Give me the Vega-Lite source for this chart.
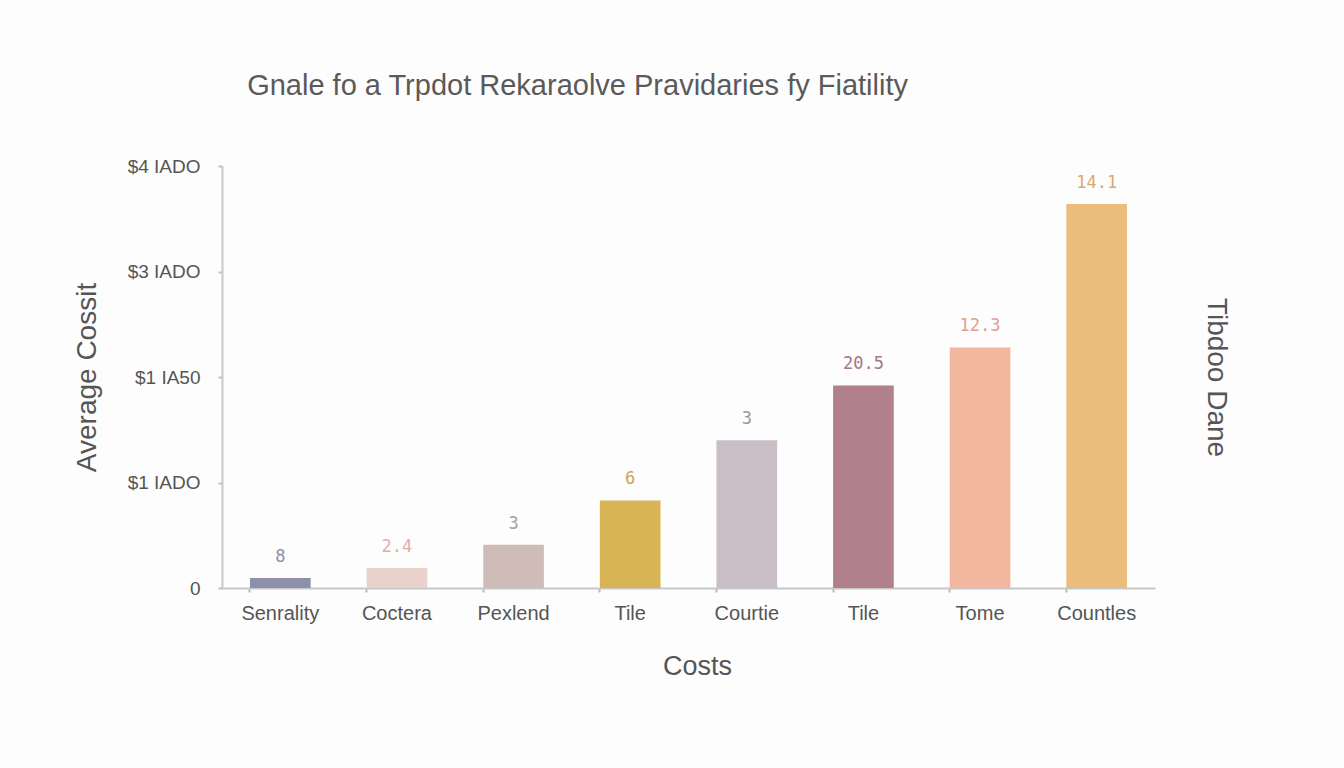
{
  "$schema": "https://vega.github.io/schema/vega-lite/v6.json",
  "autosize": {"type": "none"},
  "padding": {"left": 222, "top": 166, "right": 189, "bottom": 180},
  "width": 933,
  "height": 422,
  "background": "#fdfdfd",
  "title": {
    "text": "Gnale fo a Trpdot Rekaraolve Pravidaries fy Fiatility",
    "anchor": "start",
    "dx": 174,
    "offset": 56,
    "fontSize": 29,
    "fontWeight": "normal",
    "font": "Liberation Sans",
    "color": "#5a5a5a"
  },
  "data": {
    "values": [
      {"cat": "Senrality", "cost": 0.095, "label": "8"},
      {"cat": "Coctera", "cost": 0.19, "label": "2.4"},
      {"cat": "Pexlend", "cost": 0.41, "label": "3"},
      {"cat": "Tile", "cost": 0.83, "label": "6"},
      {"cat": "Courtie", "cost": 1.4, "label": "3"},
      {"cat": "Tile ", "cost": 1.92, "label": "20.5"},
      {"cat": "Tome", "cost": 2.28, "label": "12.3"},
      {"cat": "Countles", "cost": 3.64, "label": "14.1"}
    ]
  },
  "encoding": {
    "x": {
      "field": "cat",
      "type": "nominal",
      "sort": null,
      "scale": {"paddingInner": 0.48, "paddingOuter": 0.24},
      "axis": {
        "title": "Costs",
        "labelAngle": 0,
        "bandPosition": 0,
        "labelFontSize": 20,
        "labelColor": "#555555",
        "labelFont": "Liberation Sans",
        "labelPadding": 11,
        "titleFontSize": 27,
        "titleFontWeight": "normal",
        "titleFont": "Liberation Sans",
        "titleColor": "#555555",
        "titlePadding": 30,
        "titleX": 475,
        "domainColor": "#c8c8c8",
        "domainWidth": 2,
        "tickColor": "#b8b8b8",
        "tickSize": 4,
        "tickWidth": 2
      }
    }
  },
  "layer": [
    {
      "mark": {"type": "bar"},
      "encoding": {
        "y": {
          "field": "cost",
          "type": "quantitative",
          "scale": {"domain": [0, 4]},
          "axis": {
            "title": "Average Cossit",
            "values": [0, 1, 2, 3, 4],
            "labelExpr": "datum.value == 0 ? '0' : datum.value == 1 ? '$1 IADO' : datum.value == 2 ? '$1 IA50' : datum.value == 3 ? '$3 IADO' : '$4 IADO'",
            "grid": false,
            "labelFontSize": 19,
            "labelColor": "#555555",
            "labelFont": "Liberation Sans",
            "labelPadding": 18,
            "titleFontSize": 28,
            "titleFontWeight": "normal",
            "titleFont": "Liberation Sans",
            "titleColor": "#555555",
            "titlePadding": 26,
            "domainColor": "#c8c8c8",
            "domainWidth": 2,
            "tickColor": "#c0c0c0",
            "tickSize": 4,
            "tickWidth": 2
          }
        },
        "color": {
          "field": "cat",
          "type": "nominal",
          "legend": null,
          "scale": {
            "domain": ["Senrality", "Coctera", "Pexlend", "Tile", "Courtie", "Tile ", "Tome", "Countles"],
            "range": ["#8d90aa", "#ead2cc", "#cfbcb8", "#d9b455", "#c9bdc6", "#b0808c", "#f3b79f", "#ebbd7c"]
          }
        }
      }
    },
    {
      "mark": {
        "type": "text",
        "baseline": "bottom",
        "dy": -12,
        "fontSize": 17,
        "font": "DejaVu Sans Mono"
      },
      "encoding": {
        "y": {
          "field": "cost",
          "type": "quantitative",
          "axis": {
            "orient": "right",
            "title": "Tibdoo Dane",
            "titleAngle": 90,
            "labels": false,
            "ticks": false,
            "domain": false,
            "grid": false,
            "titleFontSize": 28,
            "titleFontWeight": "normal",
            "titleFont": "Liberation Sans",
            "titleColor": "#555555",
            "titlePadding": 46
          }
        },
        "text": {"field": "label"},
        "color": {
          "field": "cat",
          "type": "nominal",
          "legend": null,
          "scale": {
            "domain": ["Senrality", "Coctera", "Pexlend", "Tile", "Courtie", "Tile ", "Tome", "Countles"],
            "range": ["#8a8ea8", "#dfb0a8", "#a89e9c", "#c9a45a", "#9c94a0", "#a07880", "#e0a090", "#d9aa70"]
          }
        }
      }
    }
  ],
  "resolve": {"axis": {"y": "independent"}, "scale": {"color": "independent"}},
  "config": {"view": {"stroke": null}}
}
